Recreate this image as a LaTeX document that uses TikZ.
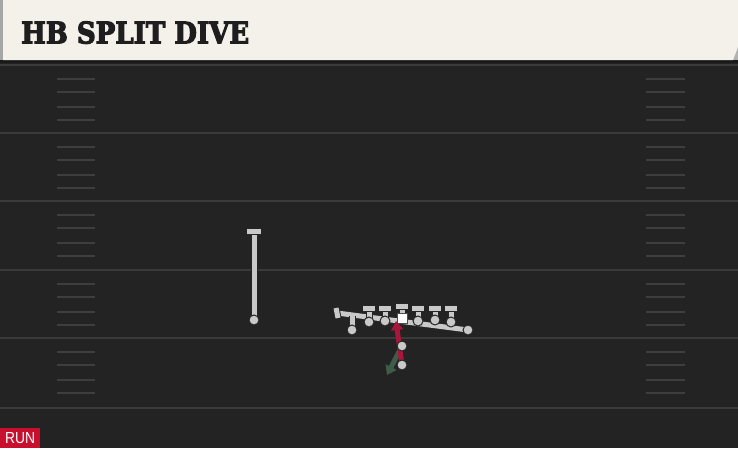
\documentclass[tikz,border=0pt]{standalone}
\usepackage{fontspec}
\usepackage{graphicx}
\usetikzlibrary{arrows.meta}
\newfontfamily\titlefont[UprightFont=* Bold, FakeBold=4]{DejaVu Serif}
\newfontfamily\runfont{Liberation Sans}
\definecolor{fieldbg}{HTML}{232323}
\definecolor{fieldline}{HTML}{3A3A3A}
\definecolor{hashc}{HTML}{3E3E3E}
\definecolor{cream}{HTML}{F4F1EA}
\definecolor{titletxt}{HTML}{1E1E1E}
\definecolor{plgray}{HTML}{C9C9C9}
\definecolor{runred}{HTML}{A8163C}
\definecolor{blockgreen}{HTML}{3E5C48}
\definecolor{tagred}{HTML}{C8102E}
\tikzset{
  pl/.style={draw=plgray, line width=5pt, preaction={draw=black!85, line width=7pt}},
  pldot/.style={circle, fill=plgray, draw=black!85, line width=1pt, inner sep=0pt, minimum size=10pt},
  center/.style={rectangle, fill=white, draw=black!70, line width=0.6pt, inner sep=0pt, minimum size=10pt},
  fline/.style={draw=fieldline, line width=2pt},
  hash/.style={draw=hashc, line width=2pt},
  runarrow/.style={draw=runred, line width=5pt, -{Triangle[length=9pt,width=12pt]}},
  blkarrow/.style={draw=blockgreen, line width=5pt, -{Triangle[length=9pt,width=12pt]}},
}
\begin{document}
\begin{tikzpicture}[x=1pt,y=-1pt]
\useasboundingbox (0,0) rectangle (738,448);
% field
\fill[fieldbg] (0,0) rectangle (738,448);
% field lines
\foreach \y in {65,133,201,270,338,408} \draw[fline] (0,\y) -- (738,\y);
% hash marks
\foreach \t in {65,133,201,270,338} {
  \foreach \d in {14,27,42,55} {
    \draw[hash] (57,\t+\d) -- (95,\t+\d);
    \draw[hash] (646,\t+\d) -- (685,\t+\d);
  }
}
% title bar
\fill[black!90] (0,58) rectangle (738,63);
\fill[gray!70] (0,0) rectangle (4,60);
\fill[gray!60] (733,0) rectangle (738,60);
\fill[cream] (3,0) -- (738,0) -- (738,47) -- (733,60) -- (3,60) -- cycle;
\node[anchor=south west, inner sep=0pt, text=titletxt] (title) at (21,44)
  {\resizebox{228pt}{22pt}{\titlefont HB SPLIT DIVE}};
% RUN tag
\fill[tagred] (0,428) rectangle (40,448);
\node[anchor=south west, inner sep=0pt, text=white] (run) at (5,444)
  {\resizebox{30pt}{11pt}{\runfont RUN}};

% receiver
\coordinate (wrtop) at (254,232);
\draw[pl] (254,320) -- (wrtop);
\draw[pl] (247,231) -- (261,231);
\node[pldot] (wr) at (254,320) {};

% long blocking line
\coordinate (lineL) at (337,313);
\coordinate (lineRc) at (468,330);
\draw[pl] (lineL) -- (lineRc);
\draw[pl] (336,308) -- (338,318);

% left end
\draw[pl] (352,330) -- (352,316);

% linemen
\foreach \x/\y in {369/322,385/321,418/321,435/320,451/322} {
  \draw[pl] (\x,\y) -- (\x,309);
  \draw[pl] (\x-6,308) -- (\x+6,308);
}
% center
\draw[pl] (402,318) -- (402,307);
\draw[pl] (396,306) -- (408,306);
\node[pldot] (lineR) at (lineRc) {};
\node[pldot] (te) at (352,330) {};
\foreach \n/\x/\y in {lt/369/322,lg/385/321,rg/418/321,rt/435/320,re/451/322}
  \node[pldot] (\n) at (\x,\y) {};

% backs
\coordinate (fbc) at (402,346);
\coordinate (hbc) at (402,365);
\coordinate (blk) at (387,375);
\coordinate (hole) at (396,321);
\draw[blkarrow] (fbc) -- (blk);
\draw[runarrow] (hbc) -- (hole);
\node[pldot] (fb) at (fbc) {};
\node[pldot] (hb) at (hbc) {};
\node[center] (c) at (402,318) {};
\end{tikzpicture}
\end{document}
